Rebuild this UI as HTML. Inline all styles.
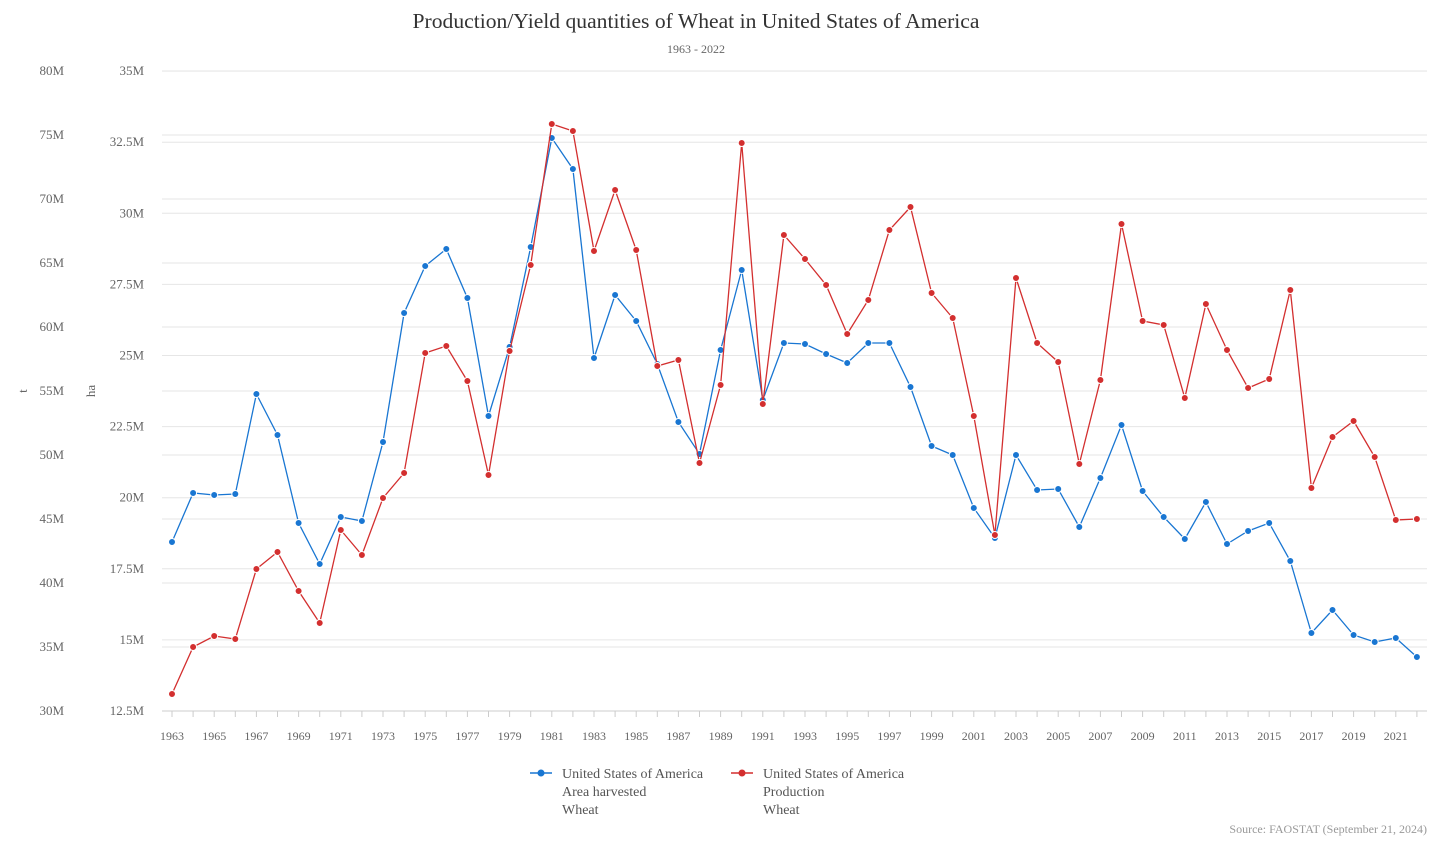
<!DOCTYPE html>
<html><head><meta charset="utf-8"><style>
body{margin:0;background:#fff;width:1440px;height:840px;overflow:hidden}
svg text{font-family:"Liberation Serif",serif;fill:#666}
</style></head><body>
<svg width="1440" height="840" xmlns="http://www.w3.org/2000/svg" id="s">
<text x="696" y="28" text-anchor="middle" style="font-size:21.6px;fill:#333">Production/Yield quantities of Wheat in United States of America</text>
<text x="696" y="53" text-anchor="middle" style="font-size:12px">1963 - 2022</text>
<g id="grid"></g>
<g id="lab" style="font-size:13px"></g>
<text x="27" y="391" text-anchor="middle" transform="rotate(-90 27 391)" style="font-size:13px">t</text>
<text x="95" y="391" text-anchor="middle" transform="rotate(-90 95 391)" style="font-size:13px">ha</text>
<g id="ser"></g>
<g style="font-size:14px">
<line x1="530" y1="773" x2="552" y2="773" stroke="#1976d2" stroke-width="1.5"/><circle cx="541" cy="773" r="3.5" fill="#1976d2"/>
<text x="562" y="778" style="fill:#555">United States of America</text><text x="562" y="796" style="fill:#555">Area harvested</text><text x="562" y="814" style="fill:#555">Wheat</text>
<line x1="731" y1="773" x2="753" y2="773" stroke="#d32f2f" stroke-width="1.5"/><circle cx="742" cy="773" r="3.5" fill="#d32f2f"/>
<text x="763" y="778" style="fill:#555">United States of America</text><text x="763" y="796" style="fill:#555">Production</text><text x="763" y="814" style="fill:#555">Wheat</text>
</g>
<text x="1427" y="833" text-anchor="end" style="font-size:12px;fill:#999">Source: FAOSTAT (September 21, 2024)</text>
</svg>
<script>
const ns="http://www.w3.org/2000/svg";
function el(p,t,a,txt){const e=document.createElementNS(ns,t);for(const k in a)e.setAttribute(k,a[k]);if(txt!=null)e.textContent=txt;document.getElementById(p).appendChild(e);return e;}
for(let i=0;i<=10;i++){const y=711-i*64;el("grid","line",{x1:162,x2:1427,y1:y,y2:y,stroke:"#e6e6e6"});el("lab","text",{x:64,y:y+4,"text-anchor":"end"},(30+5*i)+"M");}
const rl=["12.5M","15M","17.5M","20M","22.5M","25M","27.5M","30M","32.5M","35M"];
for(let i=0;i<10;i++){const y=711-i*71.1;el("grid","line",{x1:162,x2:1427,y1:y,y2:y,stroke:"#e6e6e6"});el("lab","text",{x:144,y:y+4,"text-anchor":"end"},rl[i]);}
el("grid","line",{x1:162,x2:1427,y1:711,y2:711,stroke:"#ccc"});
const X=y=>172+(y-1963)*21.1;
for(let y=1963;y<=2022;y++){el("grid","line",{x1:X(y),x2:X(y),y1:711,y2:717,stroke:"#ccc"});if((y-1963)%2==0)el("lab","text",{x:X(y),y:740,"text-anchor":"middle","style":"font-size:12px"},y);}
const b=[542,493,495,494,394,435,523,564,517,521,442,313,266,249,298,416,347,247,138,169,358,295,321,364,422,454,350,270,400,343,344,354,363,343,343,387,446,455,508,538,455,490,489,527,478,425,491,517,539,502,544,531,523,561,633,610,635,642,638,657];
const r=[694,647,636,639,569,552,591,623,530,555,498,473,353,346,381,475,351,265,124,131,251,190,250,366,360,463,385,143,404,235,259,285,334,300,230,207,293,318,416,535,278,343,362,464,380,224,321,325,398,304,350,388,379,290,488,437,421,457,520,519];
for(const [d,c] of [[b,"#1976d2"],[r,"#d32f2f"]]){el("ser","polyline",{points:d.map((v,i)=>X(1963+i)+","+v).join(" "),fill:"none",stroke:c,"stroke-width":1.3});d.forEach((v,i)=>el("ser","circle",{cx:X(1963+i),cy:v,r:3.5,fill:c,stroke:"#fff","stroke-width":1}));}
</script>
</body></html>
